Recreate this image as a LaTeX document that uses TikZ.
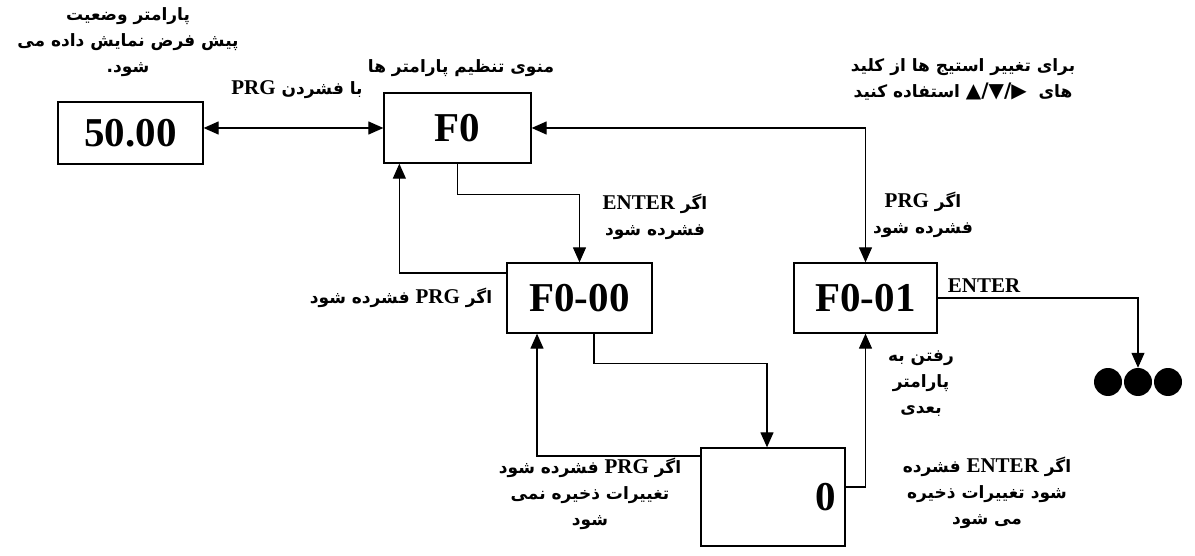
\documentclass[tikz,border=0pt]{standalone}
\usepackage{fontspec}
\usetikzlibrary{arrows.meta,calc}
\TeXXeTstate=1
\newfontfamily\arfont[Script=Arabic]{DejaVu Sans}
\newfontfamily\latfont{Liberation Serif}
\newfontfamily\symbfont{DejaVu Sans}
\newcommand\latword[1]{{\latfont\bfseries\fontsize{21}{26}\selectfont #1}}
\newcommand\symb[1]{\hbox{\symbfont\fontsize{20}{26}\selectfont #1}}
\begin{document}
\begin{tikzpicture}[x=1pt,y=-1pt,
  box/.style={draw, line width=1.3pt, inner sep=0pt, font=\latfont\bfseries\fontsize{41}{41}\selectfont},
  lbl/.style={align=center, inner sep=0pt, font=\arfont\bfseries\fontsize{17}{26}\selectfont},
  conn/.style={line width=1.2pt, -{Triangle[length=15pt,width=13pt]}},
  dconn/.style={line width=1.2pt, {Triangle[length=15pt,width=13pt]}-{Triangle[length=15pt,width=13pt]}},
  dot/.style={circle, fill, inner sep=0pt, minimum size=28pt}]
\useasboundingbox (0,0) rectangle (1195,556);
% boxes
\node[box, minimum width=145pt, minimum height=62pt] (b50) at (130.5,133) {50.00};
\node[box, minimum width=147pt, minimum height=70pt] (F0) at (457.5,128) {F0};
\node[box, minimum width=145pt, minimum height=70pt] (F000) at (579.5,298) {F0-00};
\node[box, minimum width=143pt, minimum height=70pt] (F001) at (865.5,298) {F0-01};
\node[box, minimum width=144pt, minimum height=98pt, text width=126pt, align=right] (Z) at (773,497) {0};
% dots
\node[dot] (d1) at (1108,382) {};
\node[dot] (d2) at (1138,382) {};
\node[dot] (d3) at (1168,382) {};
% labels
\node[lbl] (t1) at (128,42) {\beginR پارامتر وضعیت\endR\\ \beginR پیش فرض نمایش داده می\endR\\ \beginR شود.\endR};
\node[lbl] (t2) at (297,90) {\beginR با فشردن \latword{PRG}\endR};
\node[lbl] (t3) at (461,68) {\beginR منوی تنظیم پارامتر ها\endR};
\node[lbl] (t4) at (963,79) {\beginR برای تغییر استیج ها از کلید\endR\\ \beginR های\ \ \symb{▶}\symb{/}\symb{▼}\symb{/}\symb{▲} استفاده کنید\endR};
\node[lbl] (t5) at (655,217) {\beginR اگر \latword{ENTER}\endR\\ \beginR فشرده شود\endR};
\node[lbl] (t6) at (401,298) {\beginR اگر \latword{PRG} فشرده شود\endR};
\node[lbl] (t7) at (923,215) {\beginR اگر \latword{PRG}\endR\\ \beginR فشرده شود\endR};
\node[lbl] (t8) at (984,286) {\latword{ENTER}};
\node[lbl] (t9) at (921,384) {\beginR رفتن به\endR\\ \beginR پارامتر\endR\\ \beginR بعدی\endR};
\node[lbl] (t10) at (590,494) {\beginR اگر \latword{PRG} فشرده شود\endR\\ \beginR تغییرات ذخیره نمی\endR\\ \beginR شود\endR};
\node[lbl] (t11) at (987,493) {\beginR اگر \latword{ENTER} فشرده\endR\\ \beginR شود تغییرات ذخیره\endR\\ \beginR می شود\endR};
% connectors
\draw[dconn] (b50.east |- F0.west) -- (F0.west);
\draw[dconn] (F0.east) -| (F001.north);
\draw[conn] (F0.south) -- ++(0,-31pt) -| (F000.north);
\draw[conn] ([yshift=25pt]F000.west) -| ([xshift=16pt]F0.south west);
\draw[conn] ([xshift=14.5pt]F000.south) -- ++(0,-30pt) -| ([xshift=-6pt]Z.north);
\draw[conn] ([yshift=41pt]Z.west) -| ([xshift=-42.5pt]F000.south);
\draw[conn] ([yshift=10pt]Z.east) -| (F001.south);
\draw[conn] (F001.east) -| (d2.north);
\end{tikzpicture}
\end{document}
